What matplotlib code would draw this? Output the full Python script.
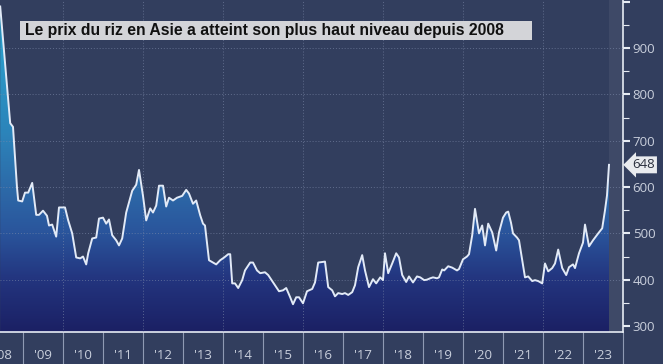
import numpy as np
import matplotlib
matplotlib.use("Agg")
import matplotlib.pyplot as plt
from matplotlib.colors import LinearSegmentedColormap
from matplotlib.patches import Rectangle

# prix du riz (USD/t)
dates = [2008.43, 2008.68, 2008.75, 2008.85, 2008.88, 2008.98, 2009.05, 2009.13,
         2009.23, 2009.33, 2009.40, 2009.50, 2009.60, 2009.65, 2009.73, 2009.83,
         2009.90, 2010.05, 2010.13, 2010.23, 2010.33, 2010.43, 2010.50, 2010.58,
         2010.63, 2010.73, 2010.83, 2010.90, 2011.00, 2011.08, 2011.15, 2011.23,
         2011.33, 2011.40, 2011.48, 2011.58, 2011.73, 2011.83, 2011.90, 2012.00,
         2012.08, 2012.18, 2012.25, 2012.33, 2012.40, 2012.50, 2012.58, 2012.65,
         2012.75, 2012.85, 2012.98, 2013.08, 2013.15, 2013.25, 2013.33, 2013.43,
         2013.50, 2013.55, 2013.65, 2013.73, 2013.83, 2013.93, 2014.03, 2014.13,
         2014.18, 2014.23, 2014.30, 2014.38, 2014.48, 2014.55, 2014.68, 2014.75,
         2014.85, 2014.93, 2015.05, 2015.13, 2015.23, 2015.33, 2015.40, 2015.50,
         2015.58, 2015.68, 2015.75, 2015.83, 2015.90, 2016.00, 2016.10, 2016.23,
         2016.30, 2016.38, 2016.55, 2016.63, 2016.73, 2016.80, 2016.88, 2016.98,
         2017.05, 2017.13, 2017.23, 2017.30, 2017.38, 2017.48, 2017.55, 2017.65,
         2017.75, 2017.83, 2017.93, 2018.00, 2018.05, 2018.13, 2018.23, 2018.33,
         2018.40, 2018.48, 2018.58, 2018.65, 2018.75, 2018.85, 2018.93, 2019.03,
         2019.10, 2019.18, 2019.25, 2019.35, 2019.40, 2019.48, 2019.53, 2019.63,
         2019.73, 2019.85, 2019.90, 2020.00, 2020.10, 2020.15, 2020.23, 2020.30,
         2020.40, 2020.48, 2020.55, 2020.63, 2020.73, 2020.83, 2020.90, 2021.00,
         2021.08, 2021.13, 2021.20, 2021.25, 2021.35, 2021.40, 2021.48, 2021.55,
         2021.63, 2021.73, 2021.80, 2021.88, 2021.98, 2022.05, 2022.13, 2022.23,
         2022.30, 2022.38, 2022.48, 2022.58, 2022.65, 2022.75, 2022.80, 2022.90,
         2023.00, 2023.05, 2023.15, 2023.25, 2023.38, 2023.48, 2023.55, 2023.60,
         2023.65]
prices = [990, 738, 730, 599, 571, 569, 588, 588,
          609, 540, 540, 549, 538, 517, 519, 493,
          556, 556, 528, 500, 448, 446, 450, 433,
          457, 489, 491, 532, 534, 521, 530, 496,
          485, 474, 489, 545, 592, 605, 637, 581,
          528, 554, 545, 560, 603, 603, 558, 577,
          571, 577, 581, 594, 586, 564, 571, 539,
          521, 517, 442, 438, 433, 442, 448, 455,
          455, 392, 392, 382, 399, 420, 437, 437,
          420, 414, 416, 410, 397, 384, 375, 377,
          382, 362, 347, 362, 362, 349, 375, 380,
          394, 437, 439, 384, 377, 364, 371, 369,
          371, 367, 373, 388, 427, 453, 420, 384,
          401, 392, 405, 399, 457, 414, 435, 457,
          448, 410, 395, 407, 394, 407, 405, 399,
          400, 403, 405, 403, 405, 422, 420, 429,
          426, 420, 423, 444, 450, 455, 496, 553,
          500, 517, 474, 521, 502, 463, 502, 534,
          545, 547, 523, 500, 491, 485, 442, 405,
          407, 397, 399, 397, 392, 435, 418, 425,
          435, 465, 425, 410, 427, 433, 425, 457,
          480, 519, 472, 485, 500, 511, 550, 582,
          648]

year_labels = ["'08", "'09", "'10", "'11", "'12", "'13", "'14", "'15",
               "'16", "'17", "'18", "'19", "'20", "'21", "'22", "'23"]
y_ticks = [300, 400, 500, 600, 700, 800, 900, 1000]
y_labels = ['300', '400', '500', '600', '700', '800', '900', '']
title = "Le prix du riz en Asie a atteint son plus haut niveau depuis 2008"
last_label = "648"

bg = '#323e5e'
txt = '#c9cfdc'

plt.rcParams['font.family'] = ['Open Sans', 'DejaVu Sans']

fig = plt.figure(figsize=(6.63, 3.64), dpi=100, facecolor=bg)
ax = fig.add_axes([0, 32 / 364, 623 / 663, 332 / 364])
ax.set_facecolor(bg)

x0, x1 = 2008.425, 2024.0
y0, y1 = 287, 1004
ax.set_xlim(x0, x1)
ax.set_ylim(y0, y1)

# zone apres la derniere valeur, un peu plus claire
ax.axvspan(dates[-1], x1, color='#4a5470', alpha=0.5, lw=0, zorder=1)

# remplissage en degrade sous la courbe
cmap = LinearSegmentedColormap.from_list(
    'riz', [(0.0, '#1b2064'), (0.16, '#23357f'), (0.3, '#2a559c'),
            (0.44, '#2d6ba9'), (0.6, '#2c84ba'), (1.0, '#2aa8d2')])
grad = np.linspace(0, 1, 256).reshape(-1, 1)
poly = ax.fill_between(dates, prices, y0, color='none', lw=0)
im = ax.imshow(grad, cmap=cmap, aspect='auto', origin='lower',
               extent=[x0, x1, y0, y1], zorder=2)
im.set_clip_path(poly.get_paths()[0], transform=ax.transData)

ax.plot(dates, prices, color='#e2eaf7', lw=1.4, zorder=4)

# grille pointillee
for v in range(400, 1000, 100):
    ax.axhline(v, color='#7f8cab', lw=0.7, ls=(0, (1, 2)), alpha=0.6, zorder=3)
for yr in range(2010, 2023, 2):
    ax.axvline(yr, color='#7f8cab', lw=0.7, ls=(0, (1, 2)), alpha=0.6, zorder=3)

# axes
for s in ['left', 'top']:
    ax.spines[s].set_visible(False)
ax.spines['right'].set_color('#e6ebf3')
ax.spines['bottom'].set_color('#e6ebf3')
ax.spines['right'].set_linewidth(1.2)
ax.spines['bottom'].set_linewidth(1.2)

ax.yaxis.tick_right()
ax.set_yticks(y_ticks)
ax.set_yticklabels(y_labels)
ax.set_yticks(range(350, 1001, 100), minor=True)
ax.tick_params(axis='y', which='major', colors='#e6ebf3', labelcolor=txt,
               length=5, width=1.5, labelsize=9.5, pad=2)
ax.tick_params(axis='y', which='minor', colors='#e6ebf3', length=4, width=0.8)

# separateurs d'annees et etiquettes au milieu
ax.set_xticks(range(2009, 2025))
ax.set_xticklabels([])
ax.set_xticks([y + 0.5 for y in range(2008, 2024)], minor=True)
ax.set_xticklabels(year_labels, minor=True)
ax.tick_params(axis='x', which='major', colors='#8f9ab3', length=32, width=0.8, direction='out')
ax.tick_params(axis='x', which='minor', length=0, labelcolor=txt, labelsize=9.5, pad=12)

# etiquette de la derniere valeur
ax.text(1.015, prices[-1], last_label, transform=ax.get_yaxis_transform(),
        ha='left', va='center', fontsize=9.5, color='#2a2f3d', clip_on=False,
        bbox=dict(boxstyle='larrow,pad=0.15', fc='#e9ebef', ec='none'))

# titre dans un bandeau gris
fig.patches.append(Rectangle((20 / 663, 1 - 40 / 364), 512 / 663, 19 / 364,
                             transform=fig.transFigure, fc='#d3d4d8', ec='none', zorder=5))
fig.text(25 / 663, 1 - 30.5 / 364, title, ha='left', va='center', fontsize=11.3,
         fontweight='bold', family='Liberation Sans', color='#111111', zorder=6)

plt.savefig('out.png', dpi=100, facecolor=bg)
